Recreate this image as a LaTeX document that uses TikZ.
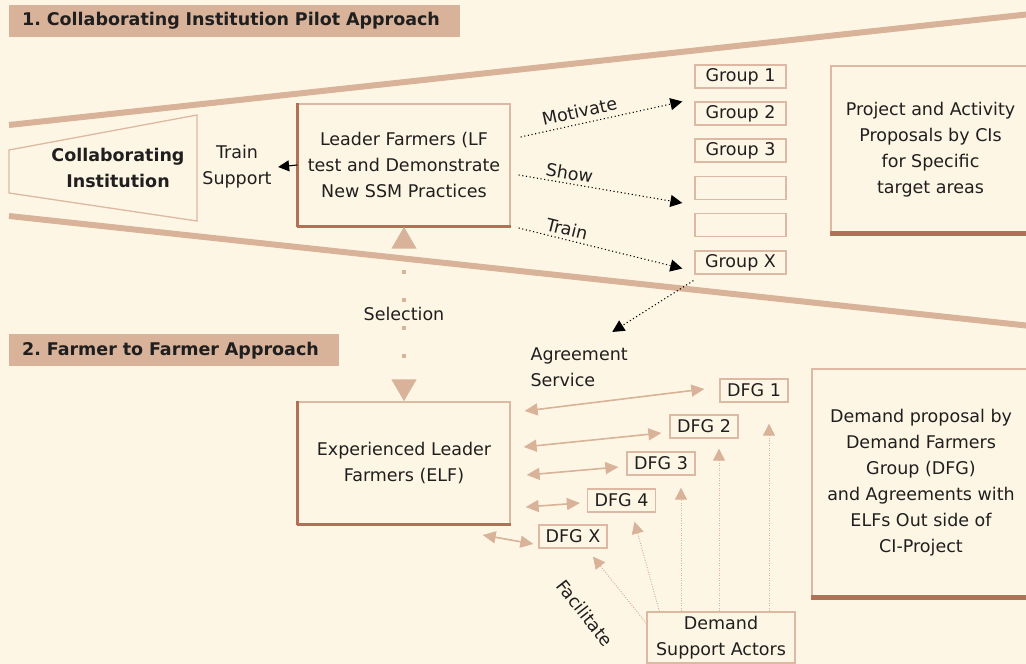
\documentclass[tikz,border=0pt]{standalone}
\usepackage{fontspec}
\setmainfont{DejaVu Sans}
\usetikzlibrary{arrows.meta,calc}
\frenchspacing

\definecolor{cream}{RGB}{254,246,228}
\definecolor{tan}{RGB}{217,178,154}
\definecolor{edge}{RGB}{221,184,162}
\definecolor{rust}{RGB}{180,112,86}
\newcommand{\txt}{\fontsize{17.5}{26}\selectfont}

\begin{document}
\begin{tikzpicture}[x=1pt, y=-1pt,
   every node/.style={font=\txt, text=black!88},
   heading/.style={fill=tan, anchor=north west, minimum height=32pt, inner xsep=13pt,
      align=left, font=\txt\bfseries},
   box/.style={draw=edge, line width=1.3pt, fill=cream, align=center, inner sep=0pt},
   leadbox/.style={box, minimum width=212pt, minimum height=122pt,
      append after command={
         (\tikzlastnode.north west) edge[rust, line width=2.5pt] (\tikzlastnode.south west)
         (\tikzlastnode.south west) edge[rust, line width=2.5pt] (\tikzlastnode.south east)}},
   proposal/.style={box,
      append after command={
         (\tikzlastnode.south west) edge[rust, line width=5pt] (\tikzlastnode.south east)}},
   group/.style={box, minimum width=91pt, minimum height=23pt},
   dfg/.style={box, minimum width=68pt, minimum height=23pt},
   funnel/.style={tan, line width=6pt},
   cue/.style={black, line width=1.1pt, dash pattern=on 1.1pt off 2.6pt,
      -{Triangle[length=12pt,width=12pt]}},
   pointer/.style={black, line width=1.1pt, -{Triangle[length=11pt,width=11pt]}},
   link/.style={tan, line width=1.6pt,
      {Triangle[length=13pt,width=12pt]}-{Triangle[length=13pt,width=12pt]}},
   assist/.style={tan, line width=1pt, dash pattern=on 1pt off 1.5pt,
      -{Triangle[length=12pt,width=12pt]}},
   select/.style={tan, line width=4.5pt, dash pattern=on 4.5pt off 23.5pt, dash phase=6pt,
      {Triangle[length=22pt,width=24pt]}-{Triangle[length=22pt,width=24pt]}}]

   \useasboundingbox (0,0) rectangle (1026,664);
   \fill[cream] (0,0) rectangle (1026,664);

   \draw[funnel] (9,125) -- (1040,13);
   \draw[funnel] (9,216) -- (1040,327);

   \node[heading, text width=425pt] (h1) at (9,5) {1. Collaborating Institution Pilot Approach};
   \node[heading, text width=304pt] (h2) at (9,334) {2. Farmer to Farmer Approach};

   % pilot approach
   \draw[edge, line width=1.3pt, fill=cream] (9,150) -- (197,115) -- (197,221) -- (9,193) -- cycle;
   \node[align=center, font=\txt\bfseries] (ci) at (118,168) {Collaborating\\Institution};
   \node[align=center] (ts) at (237,167) {Train\\Support};
   \node[leadbox] (lf) at (404,165) {Leader Farmers (LF\\test and Demonstrate\\New SSM Practices};

   \node[group] (g1) at (740.5,76.5)  {Group 1};
   \node[group] (g2) at (740.5,113.5) {Group 2};
   \node[group] (g3) at (740.5,150.5) {Group 3};
   \node[group] (g4) at (740.5,188)   {};
   \node[group] (g5) at (740.5,225)   {};
   \node[group] (gx) at (740.5,262.5) {Group X};

   \node[proposal, minimum width=199pt, minimum height=167pt] (pa) at (930.5,149.5)
      {Project and Activity\\Proposals by CIs\\for Specific\\target areas};

   \draw[pointer] (lf.west) -- ([xshift=3pt]ts.east);
   \draw[cue] ($(lf.east)+(10,-28)$) -- node[sloped, above=2pt, pos=.38] {Motivate} ($(g2.west)+(-12,-12)$);
   \draw[cue] ($(lf.east)+(8,10)$) -- node[sloped, above, pos=.3] {Show} ($(g4.west)+(-12,15)$);
   \draw[cue] ($(lf.east)+(8,63)$) -- node[sloped, above, pos=.28] {Train} ($(gx.west)+(-12,6)$);

   % farmer to farmer approach
   \node[leadbox] (elf) at (404,463) {Experienced Leader\\Farmers (ELF)};
   \draw[select] (lf.south) -- node {Selection} (elf.north);

   \node[align=left, anchor=west] (agr) at (527,367) {Agreement\\Service};
   \draw[cue] ($(gx.south west)+(-1,6)$) -- ($(agr.north east)+(-19,-12)$);

   \node[dfg] (d1) at (754,390.5) {DFG 1};
   \node[dfg] (d2) at (704,426.5) {DFG 2};
   \node[dfg] (d3) at (661,463.5) {DFG 3};
   \node[dfg] (d4) at (621.5,500.5) {DFG 4};
   \node[dfg] (dx) at (573,536.5) {DFG X};

   \draw[link] ($(elf.east)+(14,-52)$) -- ($(d1.west)+(-15,-1.5)$);
   \draw[link] ($(elf.east)+(13,-16)$) -- ($(d2.west)+(-8,6.5)$);
   \draw[link] ($(elf.east)+(16,12)$)  -- ($(d3.west)+(-8,3.5)$);
   \draw[link] ($(elf.east)+(15,44)$)  -- ($(d4.west)+(-7,2.5)$);
   \draw[link] ($(elf.east)+(-28,72)$) -- ($(dx.west)+(-5,7.5)$);

   \node[proposal, minimum width=218pt, minimum height=228pt] (dp) at (921,483)
      {Demand proposal by\\Demand Farmers\\Group (DFG)\\and Agreements with\\ELFs Out side of\\CI-Project};

   \node[box, minimum width=148pt, minimum height=51pt] (dsa) at (721,637.5) {Demand\\Support Actors};
   \coordinate (t1) at ($(d1.south)+(15,21)$);
   \coordinate (t2) at ($(d2.south)+(15,10)$);
   \coordinate (t3) at ($(d3.south)+(20,12)$);
   \draw[assist] (dsa.north -| t1) -- (t1);
   \draw[assist] (dsa.north -| t2) -- (t2);
   \draw[assist] (dsa.north -| t3) -- (t3);
   \draw[assist] ($(dsa.north west)+(13,0)$) -- ($(d4.south)+(13,9)$);
   \draw[assist] ($(dsa.north west)+(0,12)$) -- ($(dx.south)+(20,8)$);
   \node[rotate=-52] (fac) at (585,613) {Facilitate};
\end{tikzpicture}
\end{document}
